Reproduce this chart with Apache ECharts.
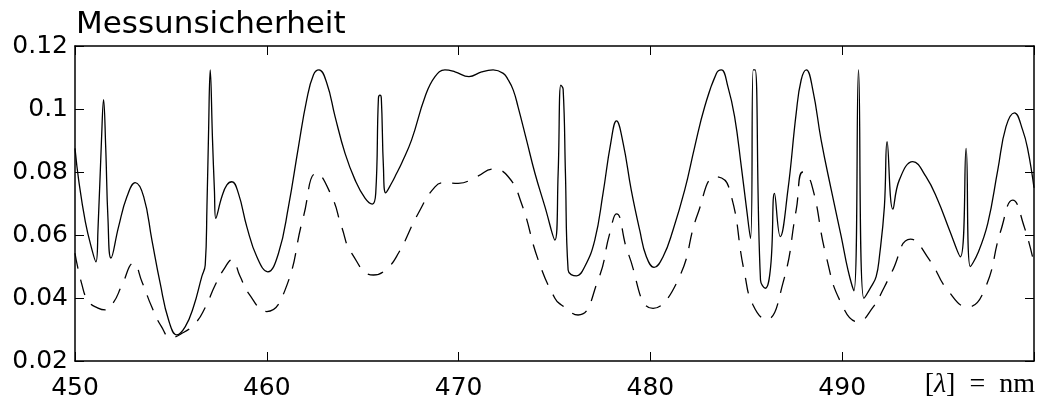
<!DOCTYPE html>
<html>
<head>
<meta charset="utf-8">
<script src="https://cdn.jsdelivr.net/npm/echarts@6/dist/echarts.min.js"></script>
<style>
html,body{margin:0;padding:0;background:#fff;}
#chart{width:1038px;height:403px;}
</style>
</head>
<body>
<div id="chart"></div>
<script>
// Wavelength ticks (nm)
const xTicks = [450, 460, 470, 480, 490, 500];
const yTicks = [0.02, 0.04, 0.06, 0.08, 0.1, 0.12];

// Solid curve: wavelength (nm) and uncertainty
const solidX = [450.0,450.19,450.54,450.89,451.09,451.2,451.38,451.49,451.6,451.72,451.875,
452.27,452.71,453.14,453.58,454.01,454.44,454.88,455.31,455.75,456.18,456.61,456.79,456.88,456.96,457.05,457.17,457.27,457.34,
457.66,457.92,458.18,458.52,458.96,459.48,460.05,460.61,461.13,461.65,462.08,462.43,462.72,463.13,463.56,464.08,464.6,465.12,465.5,
465.68,465.82,465.9,465.97,466.08,466.2,466.51,466.77,467.03,467.55,468.25,468.77,469.29,469.81,470.54,471.2,471.8,472.33,472.59,472.85,473.1,473.54,473.98,474.5,475.02,
475.19,475.33,475.45,475.57,475.71,476.15,476.58,477.1,477.53,477.93,478.23,478.58,479.0,479.44,479.79,480.19,480.66,481.18,481.79,482.31,482.83,483.44,
483.7,484.04,484.39,484.74,485.0,485.22,485.36,485.46,485.74,485.99,486.27,486.47,486.77,487.17,487.6,487.86,488.13,488.47,488.9,489.43,489.95,490.3,490.61,490.85,491.13,491.51,491.77,
491.94,492.2,492.34,492.64,492.98,493.68,494.37,494.98,495.59,496.16,496.46,496.68,497.07,497.59,498.11,498.54,498.98,499.41,499.68,500.0];
const solidY = [0.0875,0.0775,0.0642,0.0552,0.0515,0.062,0.09,0.103,0.088,0.065,0.0527,
0.0626,0.0722,0.0766,0.0722,0.0584,0.0447,0.033,0.0283,0.0309,0.0372,0.0468,0.0505,0.069,0.0915,0.1124,0.0902,0.074,0.0653,
0.0722,0.0759,0.0769,0.0732,0.0626,0.0531,0.0483,0.0542,0.069,0.088,0.1029,0.1108,0.1124,0.1082,0.0976,0.0859,0.0775,0.0717,0.0698,
0.0733,0.1034,0.1044,0.1035,0.0817,0.0734,0.0765,0.0796,0.0828,0.0902,0.1039,0.1103,0.1124,0.1118,0.1103,0.1118,0.1124,0.1113,0.1092,0.106,0.1007,0.0902,0.0796,0.069,0.0584,
0.0796,0.1076,0.1063,0.0796,0.0489,0.047,0.05,0.0584,0.0732,0.0891,0.0962,0.0891,0.0743,0.0616,0.0531,0.0497,0.0531,0.0616,0.0743,0.088,0.1007,0.1113,
0.1124,0.1071,0.0976,0.0817,0.069,0.0589,0.1124,0.1124,0.0457,0.0431,0.05,0.0732,0.0595,0.0743,0.0986,0.1092,0.1124,0.106,0.0902,0.0743,0.0595,0.0489,0.0423,0.1124,0.0399,0.0436,0.0468,
0.0531,0.069,0.0896,0.0682,0.0775,0.0833,0.0785,0.0711,0.0616,0.0531,0.0875,0.05,0.0542,0.0637,0.0806,0.0944,0.0988,0.0933,0.087,0.075];

// Dashed curve
const dashX = [450.0,450.35,450.7,451.2,451.58,452.0,452.45,453.05,453.5,454.0,454.5,455.0,455.5,456.27,456.79,457.31,457.8,458.18,
458.6,459.05,460.0,460.95,461.91,462.6,463.39,463.9,464.43,465.56,466.2,466.86,467.9,468.77,469.29,469.98,470.94,471.8,472.59,473.28,474.15,475.02,
475.36,476.23,477.27,477.88,478.23,478.84,480.14,481.44,482.48,483.42,484.08,484.91,485.35,486.04,486.91,487.6,487.95,488.39,489.17,489.95,490.82,
491.6,492.2,492.55,493.56,494.55,495.5,496.55,497.41,498.28,498.89,499.49,500.0];
const dashY = [0.0542,0.0445,0.039,0.0368,0.0362,0.0385,0.0441,0.051,0.045,0.0372,0.031,0.0275,0.0285,0.032,0.037,0.0441,0.0495,0.0521,
0.047,0.0415,0.0357,0.0425,0.0658,0.0796,0.0722,0.0626,0.0542,0.0473,0.049,0.0542,0.0669,0.0753,0.0766,0.0764,0.0785,0.0809,0.0785,0.07,0.0521,0.0399,
0.0378,0.0346,0.0457,0.0605,0.0667,0.0542,0.0367,0.0457,0.0669,0.0785,0.0753,0.0478,0.0378,0.0332,0.0447,0.0679,0.080,0.0764,0.0531,0.0383,0.0325,
0.037,0.0435,0.0478,0.0587,0.0521,0.0425,0.0372,0.0425,0.0616,0.0711,0.0626,0.051];

const solidData = solidX.map((x, i) => [x, solidY[i]]);
const dashData = dashX.map((x, i) => [x, dashY[i]]);

const chart = echarts.init(document.getElementById('chart'));
const FONT = '"DejaVu Sans", sans-serif';
const axisLineStyle = { color: '#000', width: 1.5 };
const tickStyle = { color: '#000', width: 1 };

chart.setOption({
  animation: false,
  backgroundColor: '#fff',
  title: {
    text: 'Messunsicherheit',
    left: 71, top: 4,
    textStyle: { fontFamily: FONT, fontSize: 31, fontWeight: 'normal', color: '#000' }
  },
  grid: { left: 75, right: 4, top: 46, bottom: 42, containLabel: false },
  xAxis: [{
    type: 'value', position: 'bottom',
    min: xTicks[0], max: xTicks[xTicks.length - 1], interval: 10,
    axisLine: { show: true, onZero: false, lineStyle: axisLineStyle },
    axisTick: { show: true, inside: true, length: 9, lineStyle: tickStyle },
    splitLine: { show: false },
    axisLabel: {
      margin: 15, fontFamily: FONT, fontSize: 25, color: '#000',
      formatter: v => (v === 500 ? '' : String(v))
    }
  }, {
    type: 'value', position: 'top',
    min: xTicks[0], max: xTicks[xTicks.length - 1], interval: 10,
    axisLine: { show: true, onZero: false, lineStyle: axisLineStyle },
    axisTick: { show: true, inside: true, length: 9, lineStyle: tickStyle },
    splitLine: { show: false },
    axisLabel: { show: false }
  }],
  yAxis: [{
    type: 'value', position: 'left',
    min: yTicks[0], max: yTicks[yTicks.length - 1], interval: 0.02,
    axisLine: { show: true, onZero: false, lineStyle: axisLineStyle },
    axisTick: { show: true, inside: true, length: 9, lineStyle: tickStyle },
    splitLine: { show: false },
    axisLabel: {
      margin: 7, fontFamily: FONT, fontSize: 25, color: '#000',
      formatter: v => String(parseFloat(v.toFixed(2)))
    }
  }, {
    type: 'value', position: 'right',
    min: yTicks[0], max: yTicks[yTicks.length - 1], interval: 0.02,
    axisLine: { show: true, onZero: false, lineStyle: axisLineStyle },
    axisTick: { show: true, inside: true, length: 9, lineStyle: tickStyle },
    splitLine: { show: false },
    axisLabel: { show: false }
  }],
  graphic: [{
    type: 'text',
    right: 3, top: 371,
    style: {
      text: '{a|[}{b|λ}{a|]  =  nm}',
      rich: {
        a: { fontFamily: '"Liberation Serif", "DejaVu Serif", serif', fontSize: 28, fill: '#000' },
        b: { fontFamily: '"Liberation Serif", "DejaVu Serif", serif', fontSize: 28, fontStyle: 'italic', fill: '#000' }
      }
    }
  }],
  series: [{
    type: 'line', xAxisIndex: 0, yAxisIndex: 0,
    data: solidData, showSymbol: false, smooth: 0.45,
    lineStyle: { color: '#000', width: 1.3 }
  }, {
    type: 'line', xAxisIndex: 0, yAxisIndex: 0,
    data: dashData, showSymbol: false, smooth: 0.5,
    lineStyle: { color: '#000', width: 1.3, type: [16, 11] }
  }]
});
</script>
</body>
</html>
